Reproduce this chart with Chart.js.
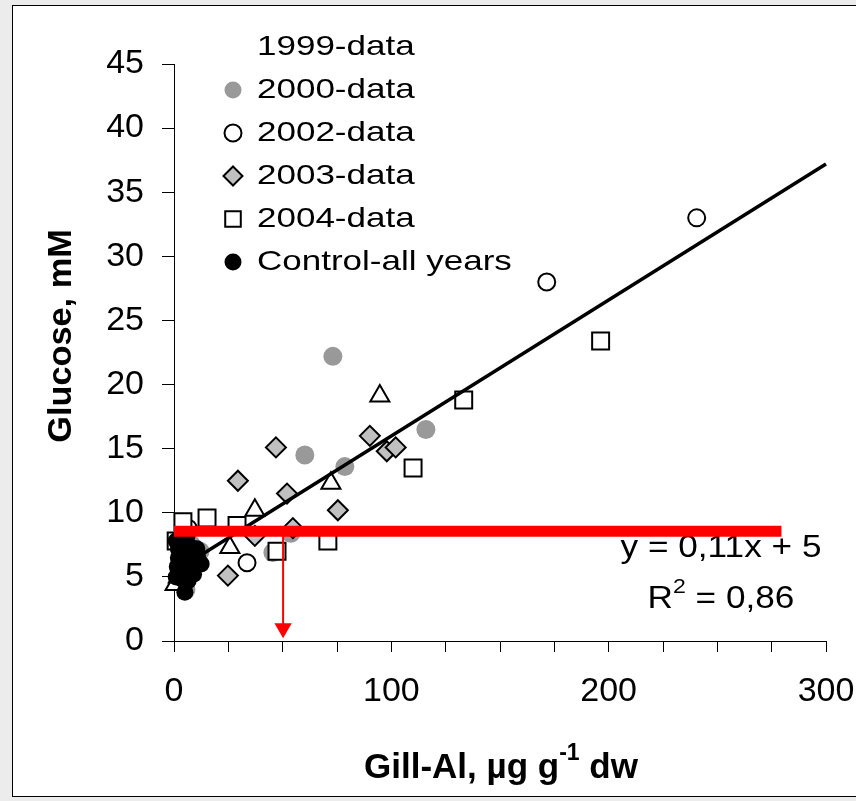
<!DOCTYPE html>
<html>
<head>
<meta charset="UTF-8">
<title>Glucose vs Gill-Al</title>
<script src="https://cdn.jsdelivr.net/npm/chart.js"></script>
<style>
    html, body { margin: 0; padding: 0; background: #ececec; }
    #frame { position: absolute; left: 12px; top: 5px; width: 870px; height: 790px; border: 1px solid #000; background: #fff; }
    #wrap { position: absolute; left: 0; top: 0; width: 856px; height: 801px; }
</style>
</head>
<body>
<div id="frame"></div>
<div id="wrap"><canvas id="chart"></canvas></div>

<script>
    // values
    var x1999 = [0.5, 2, 25.7, 37.2, 72.2, 94.7];
    var y1999 = [4.4, 5.0, 7.3, 10.2, 12.3, 19.1];

    var x2000 = [73.1, 60.2, 78.6, 115.9, 53.8, 45.5, 5.5, 3, 8, 12];
    var y2000 = [22.2, 14.5, 13.6, 16.5, 8.4, 6.9, 4.0, 6.0, 7.5, 7.0];

    var x2002 = [171.5, 240.5, 33.6, 6.5];
    var y2002 = [28.0, 33.0, 6.1, 8.8];

    var x2003 = [46.9, 90.1, 97.9, 102, 52, 75.4, 54.7, 29.4, 37.2, 24.8];
    var y2003 = [15.1, 16.0, 14.8, 15.1, 11.5, 10.2, 8.8, 12.5, 8.2, 5.1];

    var x2004 = [133.3, 196.3, 110, 70.8, 47.4, 29, 4.1, 15.2, 1];
    var y2004 = [18.8, 23.4, 13.5, 7.8, 7.0, 9.0, 9.3, 9.6, 7.8];

    var xControl = [1, 1.5, 2, 2, 3, 3, 3.5, 4, 4, 5, 5, 5.5, 6, 6, 7, 7, 8, 8.5, 9, 10, 10.5, 2.5, 1, 6.5, 11, 12.5];
    var yControl = [5.0, 5.8, 6.5, 7.2, 5.5, 6.2, 7.6, 4.8, 6.8, 5.8, 3.8, 7.0, 6.3, 8.2, 5.3, 7.4, 6.0, 6.8, 5.2, 6.0, 7.2, 8.0, 7.8, 4.7, 6.5, 6.0];

    // regression line end points (y = 0,11x + 5)
    var trendX = [2, 300];
    var trendY = [5.6, 37.2];

    // red marker line and arrow
    var barX = [0, 279.5];
    var barY = [8.55, 8.55];
    var arrowX = [50.2, 50.2];
    var arrowY = [8.55, 1.0];

    var xTicks = [0, 100, 200, 300];
    var eqText = 'y = 0,11x + 5';
    var r2Text = ' = 0,86';

    var FONT = "'Liberation Sans', Arial, sans-serif";
    Chart.defaults.font.family = FONT;
    Chart.defaults.color = '#000';

    function pts(xs, ys) {
        var a = [];
        for (var i = 0; i < xs.length; i++) a.push({x: xs[i], y: ys[i]});
        return a;
    }

    var series = [
        {label: '1999-data', data: pts(x1999, y1999), pointStyle: 'triangle', pointRadius: 11,
            backgroundColor: '#fff', borderColor: '#000', borderWidth: 2, order: 6, noMarker: true},
        {label: '2000-data', data: pts(x2000, y2000), pointStyle: 'circle', pointRadius: 9.5,
            backgroundColor: '#999999', borderColor: '#999999', borderWidth: 0, order: 10},
        {label: '2002-data', data: pts(x2002, y2002), pointStyle: 'circle', pointRadius: 8.5,
            backgroundColor: '#fff', borderColor: '#000', borderWidth: 2, order: 9},
        {label: '2003-data', data: pts(x2003, y2003), pointStyle: 'rectRot', pointRadius: 10,
            backgroundColor: '#c0c0c0', borderColor: '#000', borderWidth: 2, order: 8},
        {label: '2004-data', data: pts(x2004, y2004), pointStyle: 'rect', pointRadius: 12,
            backgroundColor: '#fff', borderColor: '#000', borderWidth: 2, order: 7},
        {label: 'Control-all years', data: pts(xControl, yControl), pointStyle: 'circle', pointRadius: 8.5,
            backgroundColor: '#000', borderColor: '#000', borderWidth: 0, order: 5}
    ];

    var datasets = series.map(function (s) {
        s.type = 'scatter';
        s.clip = false;
        return s;
    });
    datasets.push({type: 'scatter', label: 'trend', data: pts(trendX, trendY), showLine: true,
        borderColor: '#000', borderWidth: 3.5, pointRadius: 0, order: 4, clip: false});
    datasets.push({type: 'scatter', label: 'bar', data: pts(barX, barY), showLine: true,
        borderColor: '#ff0000', borderWidth: 11, pointRadius: 0, order: 2, clip: false});
    datasets.push({type: 'scatter', label: 'arrow', data: pts(arrowX, arrowY), showLine: true,
        borderColor: '#ff0000', borderWidth: 2, pointRadius: 0, order: 1, clip: false});
    datasets.push({type: 'scatter', label: 'head', data: pts([arrowX[1]], [arrowY[1]]), pointStyle: 'triangle',
        pointRadius: 10, rotation: 180, backgroundColor: '#ff0000', borderWidth: 0, order: 0, clip: false});

    // stretched text helper
    function wideText(ctx, text, x, y, sx) {
        ctx.save();
        ctx.translate(x, y);
        ctx.scale(sx, 1);
        ctx.fillText(text, 0, 0);
        ctx.restore();
        return ctx.measureText(text).width * sx;
    }

    var equation = {
        id: 'equation',
        beforeDatasetsDraw: function (chart) {
            var ctx = chart.ctx;
            ctx.save();
            ctx.fillStyle = '#000';
            ctx.textBaseline = 'alphabetic';
            ctx.font = '32px ' + FONT;
            var w1 = ctx.measureText(eqText).width * 1.1;
            wideText(ctx, eqText, 721 - w1 / 2, 557, 1.1);
            // R² line
            var wR = ctx.measureText('R').width * 1.1;
            var wRest = ctx.measureText(r2Text).width * 1.1;
            ctx.font = '21px ' + FONT;
            var wS = ctx.measureText('2').width * 1.1;
            var x0 = 721 - (wR + wS + wRest) / 2;
            ctx.font = '32px ' + FONT;
            wideText(ctx, 'R', x0, 608, 1.1);
            ctx.font = '21px ' + FONT;
            wideText(ctx, '2', x0 + wR, 593, 1.1);
            ctx.font = '32px ' + FONT;
            wideText(ctx, r2Text, x0 + wR + wS, 608, 1.1);
            ctx.restore();
        }
    };

    var decorations = {
        id: 'decorations',
        afterDraw: function (chart) {
            var ctx = chart.ctx;
            ctx.save();
            ctx.fillStyle = '#000';

            // legend
            ctx.textBaseline = 'middle';
            ctx.font = '28px ' + FONT;
            series.forEach(function (s, i) {
                var cy = 47 + i * 43;
                if (!s.noMarker) {
                    ctx.fillStyle = s.backgroundColor;
                    ctx.strokeStyle = s.borderColor;
                    ctx.lineWidth = s.borderWidth;
                    var r = s.pointStyle === 'rect' ? 11 : (s.pointStyle === 'rectRot' ? 9.5 : 8.5);
                    Chart.helpers.drawPoint(ctx, {pointStyle: s.pointStyle, radius: r, rotation: 0,
                        borderWidth: s.borderWidth}, 233, cy);
                }
                ctx.fillStyle = '#000';
                wideText(ctx, s.label, 257, cy, 1.25);
            });

            // y title
            ctx.save();
            ctx.translate(62, 336);
            ctx.rotate(-Math.PI / 2);
            ctx.font = 'bold 33px ' + FONT;
            ctx.textAlign = 'center';
            ctx.textBaseline = 'middle';
            wideText(ctx, 'Glucose, mM', 0, 0, 1.04);
            ctx.restore();

            // x title with superscript
            ctx.textBaseline = 'alphabetic';
            ctx.font = 'bold 35px ' + FONT;
            var a = 'Gill-Al, µg g', c = ' dw', b = '-1';
            var wa = ctx.measureText(a).width, wc = ctx.measureText(c).width;
            ctx.font = 'bold 23px ' + FONT;
            var wb = ctx.measureText(b).width;
            var xs = 501 - (wa + wb + wc) / 2;
            ctx.font = 'bold 35px ' + FONT;
            ctx.fillText(a, xs, 778);
            ctx.font = 'bold 23px ' + FONT;
            ctx.fillText(b, xs + wa, 760);
            ctx.font = 'bold 35px ' + FONT;
            ctx.fillText(c, xs + wa + wb, 778);
            ctx.restore();
        }
    };

    var ctx = document.getElementById('chart').getContext('2d');
    var chart = new Chart(ctx, {
        type: 'scatter',
        data: {datasets: datasets},
        options: {
            responsive: true,
            maintainAspectRatio: false,
            animation: false,
            events: [],
            layout: {padding: {top: 64, right: 30, left: 0, bottom: 0}},
            plugins: {
                legend: {display: false},
                tooltip: {enabled: false}
            },
            scales: {
                x: {
                    type: 'linear',
                    min: 0,
                    max: 300,
                    ticks: {
                        stepSize: 25,
                        autoSkip: false,
                        maxRotation: 0,
                        padding: 19,
                        font: {size: 34},
                        callback: function (v) { return xTicks.indexOf(v) >= 0 ? v : ''; }
                    },
                    grid: {drawOnChartArea: false, drawTicks: true, tickLength: 11, color: '#000'},
                    border: {color: '#000', width: 1},
                    afterFit: function (s) {
                        s.height = 160;
                        s.paddingLeft = 0;
                        s.paddingRight = 0;
                    }
                },
                y: {
                    type: 'linear',
                    min: 0,
                    max: 45,
                    ticks: {stepSize: 5, padding: 18, font: {size: 34}},
                    grid: {drawOnChartArea: false, drawTicks: true, tickLength: 12, color: '#000'},
                    border: {color: '#000', width: 1},
                    afterFit: function (s) {
                        s.width = 174;
                        s.paddingTop = 0;
                        s.paddingBottom = 0;
                    }
                }
            }
        },
        plugins: [equation, decorations]
    });
</script>
</body>
</html>
